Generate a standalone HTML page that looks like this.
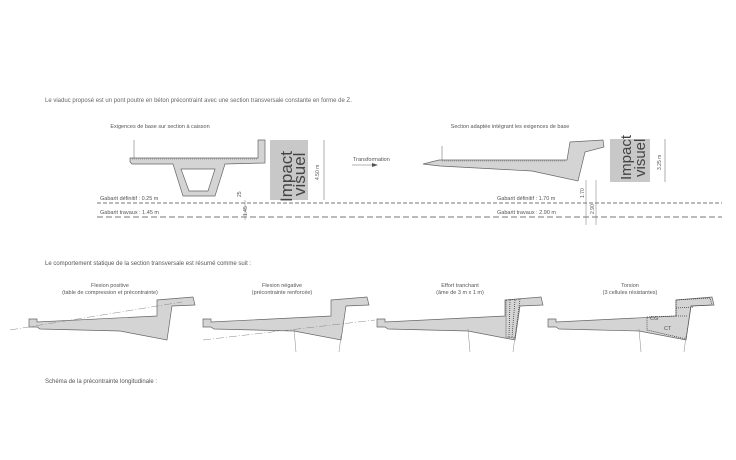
<!DOCTYPE html><html><head><style>body{margin:0;background:#fff}svg{display:block}text{font-family:"Liberation Sans",sans-serif;fill:#555}</style></head><body>
<svg width="736" height="460" viewBox="0 0 736 460" xmlns="http://www.w3.org/2000/svg">
<text x="45" y="102" font-size="6" style="fill:#666">Le viaduc proposé est un pont poutre en béton précontraint avec une section transversale constante en forme de Z.</text>
<text x="160" y="128" font-size="5.5" text-anchor="middle">Exigences de base sur section à caisson</text>
<text x="510" y="128" font-size="5.5" text-anchor="middle">Section adaptée intégrant les exigences de base</text>
<line x1="134" y1="140" x2="134" y2="158" stroke="#777" stroke-width="0.6"/>
<path d="M130,158 L258,158 L258,140 L265,140 L265,163 L225,164 L215,196 L183,196 L173,164 L132,164 L130,162 Z M181,169 L215,169 L208,191 L189,191 Z" fill="#d4d4d4" stroke="#666" stroke-width="0.7" fill-rule="evenodd"/>
<line x1="132" y1="159" x2="258" y2="159" stroke="#888" stroke-width="0.8" stroke-dasharray="1,1"/>
<rect x="270" y="140" width="38" height="60" fill="#c8c8c8"/>
<text transform="translate(292,202) rotate(-90)" font-size="17" style="fill:#444">Impact</text>
<text transform="translate(305,196) rotate(-90)" font-size="17" style="fill:#444">visuel</text>
<line x1="324" y1="140" x2="324" y2="200" stroke="#777" stroke-width="0.6"/>
<text transform="translate(319,180) rotate(-90)" font-size="5">4.50 m</text>
<line x1="245" y1="200" x2="245" y2="220" stroke="#777" stroke-width="0.5"/>
<text transform="translate(241,197) rotate(-90)" font-size="5">25</text>
<text transform="translate(247,216) rotate(-90)" font-size="5">1.45</text>
<line x1="97" y1="203" x2="722" y2="203" stroke="#777" stroke-width="0.9" stroke-dasharray="4,2"/>
<line x1="97" y1="217" x2="722" y2="217" stroke="#777" stroke-width="0.9" stroke-dasharray="6,3"/>
<text x="100" y="200" font-size="5.5">Gabarit définitif : 0.25 m</text>
<text x="100" y="214" font-size="5.5">Gabarit travaux : 1.45 m</text>
<text x="497" y="200" font-size="5.5">Gabarit définitif : 1.70 m</text>
<text x="497" y="214" font-size="5.5">Gabarit travaux : 2.90 m</text>
<text x="353" y="161" font-size="5.5">Transformation</text>
<line x1="352" y1="165" x2="374" y2="165" stroke="#666" stroke-width="0.6"/>
<path d="M372,163 L378,165 L372,167 Z" fill="#555"/>
<line x1="442" y1="146" x2="442" y2="160" stroke="#777" stroke-width="0.6"/>
<path d="M423,164 L439,160 L567,160 L570,142 L603,140 L604,147 L585,152 L578,181 L532,171 L440,166 Z" fill="#d4d4d4" stroke="#666" stroke-width="0.7"/>
<line x1="442" y1="161" x2="566" y2="161" stroke="#888" stroke-width="0.8" stroke-dasharray="1,1"/>
<rect x="610" y="139" width="40" height="43" fill="#c8c8c8"/>
<text transform="translate(631,180) rotate(-90)" font-size="15" style="fill:#444">Impact</text>
<text transform="translate(645,177) rotate(-90)" font-size="15" style="fill:#444">visuel</text>
<line x1="665" y1="139" x2="665" y2="182" stroke="#777" stroke-width="0.6"/>
<text transform="translate(661,170) rotate(-90)" font-size="5">3.25 m</text>
<line x1="586" y1="180" x2="586" y2="225" stroke="#777" stroke-width="0.5"/>
<line x1="596" y1="180" x2="596" y2="225" stroke="#777" stroke-width="0.5"/>
<text transform="translate(584,198) rotate(-90)" font-size="5">1.70</text>
<text transform="translate(594,214) rotate(-90)" font-size="5">2.90</text>
<text x="45" y="265" font-size="6">Le comportement statique de la section transversale est résumé comme suit  :</text>
<text x="110" y="287" font-size="5.5" text-anchor="middle">Flexion positive</text>
<text x="110" y="294" font-size="5.5" text-anchor="middle">(table de compression et précontrainte)</text>
<text x="282" y="287" font-size="5.5" text-anchor="middle">Flexion négative</text>
<text x="282" y="294" font-size="5.5" text-anchor="middle">(précontrainte renforcée)</text>
<text x="460" y="287" font-size="5.5" text-anchor="middle">Effort tranchant</text>
<text x="460" y="294" font-size="5.5" text-anchor="middle">(âme de 3 m x 1 m)</text>
<text x="630" y="287" font-size="5.5" text-anchor="middle">Torsion</text>
<text x="630" y="294" font-size="5.5" text-anchor="middle">(3 cellules résistantes)</text>
<defs><path id="z" d="M29,319 L37,319 L37,322 L157,316 L157,300 L193,297 L195,305 L172,306 L167,340 L120,331 L40,329 L37,327 L29,327 Z" fill="#d4d4d4" stroke="#666" stroke-width="0.7"/></defs>
<use href="#z"/>
<use href="#z" transform="translate(174,0)"/>
<use href="#z" transform="translate(348,0)"/>
<use href="#z" transform="translate(519,0)"/>
<line x1="10" y1="330" x2="182" y2="302" stroke="#888" stroke-width="0.5" stroke-dasharray="8,2,1,2"/>
<line x1="203" y1="340" x2="375" y2="320" stroke="#888" stroke-width="0.5" stroke-dasharray="8,2,1,2"/>
<line x1="294" y1="329" x2="296" y2="352" stroke="#888" stroke-width="0.5"/>
<line x1="341" y1="336" x2="339" y2="352" stroke="#888" stroke-width="0.5"/>
<line x1="468" y1="329" x2="470" y2="352" stroke="#888" stroke-width="0.5"/>
<line x1="515" y1="336" x2="513" y2="352" stroke="#888" stroke-width="0.5"/>
<line x1="639" y1="329" x2="641" y2="352" stroke="#888" stroke-width="0.5"/>
<line x1="686" y1="336" x2="684" y2="352" stroke="#888" stroke-width="0.5"/>
<g stroke="#444" stroke-width="0.8" stroke-dasharray="1,1" fill="none">
<path d="M506,300 L520,299 L515,338 L506,337 Z M510,300 L509,337 M515,300 L512,337"/>
<path d="M647,317 L676,316 L676,300 L710,298 L712,305 L691,306 L686,339 L647,330 Z M676,316 L688,316 M676,308 L694,307"/>
</g>
<text x="650" y="320" font-size="5.5">CG</text>
<text x="664" y="330" font-size="5.5">CT</text>
<text x="45" y="383" font-size="6">Schéma de la précontrainte longitudinale :</text>
</svg></body></html>
